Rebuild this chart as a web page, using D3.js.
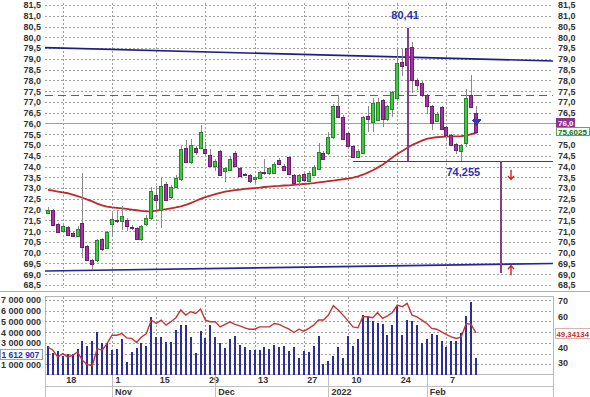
<!DOCTYPE html>
<html>
<head>
<meta charset="utf-8">
<script src="https://cdn.jsdelivr.net/npm/d3@7"></script>
<style>
  body { margin: 0; background: #fff; }
  svg { display: block; font-family: "Liberation Sans", Arial, sans-serif; }
</style>
</head>
<body>
<script>
// trading days
const dates = [
  "2021-10-13","2021-10-14","2021-10-15","2021-10-18","2021-10-19","2021-10-20","2021-10-21","2021-10-22","2021-10-25","2021-10-26","2021-10-27","2021-10-28","2021-10-29",
  "2021-11-01","2021-11-02","2021-11-03","2021-11-05","2021-11-08","2021-11-09","2021-11-10","2021-11-11","2021-11-12","2021-11-15","2021-11-16","2021-11-17","2021-11-18","2021-11-19","2021-11-22","2021-11-23","2021-11-24","2021-11-25","2021-11-26","2021-11-29","2021-11-30",
  "2021-12-01","2021-12-02","2021-12-03","2021-12-06","2021-12-07","2021-12-08","2021-12-09","2021-12-10","2021-12-13","2021-12-14","2021-12-15","2021-12-16","2021-12-17","2021-12-20","2021-12-21","2021-12-22","2021-12-23","2021-12-24","2021-12-27","2021-12-28","2021-12-29","2021-12-30","2021-12-31",
  "2022-01-03","2022-01-04","2022-01-05","2022-01-06","2022-01-10","2022-01-11","2022-01-12","2022-01-13","2022-01-14","2022-01-17","2022-01-18","2022-01-19","2022-01-20","2022-01-21","2022-01-24","2022-01-25","2022-01-26","2022-01-27","2022-01-28","2022-01-31",
  "2022-02-01","2022-02-02","2022-02-03","2022-02-04","2022-02-07","2022-02-08","2022-02-09","2022-02-10","2022-02-11","2022-02-14","2022-02-15"
];

const open = [71.85,72.0,71.35,71.0,71.2,70.9,70.78,71.4,70.3,69.65,69.65,70.65,70.2,71.3,71.5,71.45,71.5,71.2,71.15,70.65,71.3,71.6,72.7,72.0,73.2,72.6,73.05,73.4,74.85,74.2,74.85,74.85,74.8,74.55,74.05,74.72,73.8,73.85,74.63,73.93,73.67,73.6,73.4,73.47,73.74,73.7,73.72,74.3,74.02,74.46,73.6,73.34,73.65,73.34,73.65,73.92,74.64,74.64,75.36,76.81,76.31,75.54,74.95,74.46,74.64,76.34,76.08,76.16,77.09,76.2,76.7,77.17,78.87,79.49,79.57,78.02,77.9,77.32,76.81,76.13,76.78,75.85,75.46,75.03,74.74,75.08,77.32,76.47];
const high = [72.1,72.05,71.4,71.3,71.25,71.0,71.25,73.7,70.35,69.7,70.65,70.7,71.0,71.85,72.0,72.15,71.6,71.3,71.2,71.3,71.75,73.05,73.1,73.45,73.3,73.15,73.6,74.95,75.25,75.3,74.95,75.93,75.15,74.8,74.35,74.75,74.0,74.5,74.7,74.0,73.7,73.65,73.55,73.8,74.35,74.0,74.2,74.4,74.1,74.5,73.65,73.65,73.7,73.8,74.05,75.1,74.7,75.6,76.9,77.3,76.4,75.6,75.0,74.8,76.35,76.8,77.2,77.2,77.15,76.85,77.5,79.5,79.45,80.41,79.8,78.1,77.95,77.35,76.85,76.55,76.8,75.9,75.5,75.1,75.05,77.6,78.25,76.8];
const low = [71.8,71.25,70.9,70.95,70.8,70.72,70.75,69.75,69.6,69.2,69.55,70.1,70.15,70.75,71.4,71.05,71.0,71.05,70.6,70.55,71.25,71.5,72.0,71.15,72.4,72.5,73.0,73.35,74.15,74.1,74.55,74.8,74.5,74.0,73.8,73.55,73.3,73.8,74.0,73.5,73.6,73.25,73.25,73.4,73.6,73.6,73.7,74.05,73.8,73.6,73.2,73.1,73.3,73.3,73.6,73.85,74.3,74.55,75.3,76.25,75.25,74.9,74.4,74.4,74.6,75.6,75.6,76.1,75.85,76.1,76.3,77.1,78.2,77.55,77.4,77.55,77.25,76.45,75.7,76.05,75.7,75.3,74.95,74.6,74.255,74.9,76.7,75.5];
const close = [72.0,71.3,71.0,71.25,70.85,70.78,71.1,70.3,69.65,69.45,70.6,70.2,70.95,71.55,71.45,71.7,71.2,71.15,70.65,71.25,71.6,72.85,72.45,73.1,72.45,73.05,73.45,74.8,74.2,75.0,74.65,75.6,74.6,74.05,74.28,73.6,73.93,74.35,74.03,73.56,73.64,73.33,73.5,73.75,73.68,73.95,74.12,74.12,73.84,73.65,73.25,73.6,73.37,73.72,74.0,74.69,74.38,75.36,76.81,76.31,75.31,74.95,74.46,74.74,76.29,76.19,76.94,77.01,76.2,76.8,77.47,78.79,78.67,78.71,78.02,77.79,77.32,76.81,76.04,76.44,75.78,75.46,75.0,74.74,75.0,77.17,76.75,75.6025];

// moving average on price
const ma = [72.92,72.88,72.84,72.8,72.76,72.7,72.63,72.55,72.46,72.38,72.28,72.2,72.14,72.1,72.08,72.06,72.03,72.0,71.97,71.94,71.92,71.92,71.95,71.99,72.02,72.06,72.1,72.15,72.22,72.3,72.4,72.5,72.58,72.65,72.72,72.78,72.83,72.87,72.9,72.93,72.96,72.98,73.0,73.02,73.05,73.07,73.09,73.1,73.12,73.13,73.15,73.17,73.19,73.21,73.23,73.26,73.29,73.32,73.35,73.38,73.41,73.44,73.48,73.54,73.62,73.72,73.83,73.95,74.08,74.25,74.42,74.58,74.72,74.86,75.0,75.1,75.2,75.28,75.33,75.36,75.38,75.39,75.4,75.4,75.41,75.44,75.5,75.56];

// volume, millions
const volume = [2.75,2.08,2.23,1.77,1.92,1.98,2.44,3.15,2.69,3.21,4.01,2.99,2.99,2.32,2.44,3.37,1.24,2.14,2.54,2.99,2.75,5.46,3.55,3.55,3.09,3.06,4.17,4.63,4.69,3.52,2.01,4.07,3.46,4.63,3.52,2.99,2.54,3.36,3.67,2.84,2.6,2.38,2.38,2.38,2.66,2.44,2.84,2.66,2.75,2.23,2.6,1.55,2.23,2.14,2.69,3.61,1.0,1.3,1.76,2.6,1.55,3.61,2.75,3.36,5.6,5.55,5.0,4.85,4.75,3.77,4.69,6.47,3.77,5.15,5.0,4.69,3.0,3.36,3.83,3.77,3.2,2.6,3.2,3.13,3.92,5.55,6.79,1.612907];

// oscillator (right scale of lower panel)
const osc = [40.3,38.2,33.8,36,33.8,35,37.1,31.7,28.9,28.2,39.3,38.2,42.5,47.9,47.9,49,46.2,45.9,43.2,46.8,49,57.7,55.5,57.7,54.4,56.6,59.2,64.2,60.9,63.1,62,64.8,57.7,56.6,56.6,53.3,54.9,56.6,54.9,54,52.7,51.8,51.8,53.3,53.3,53.3,55.5,54.9,53.3,51.8,49.7,51.8,50.5,52.3,54.4,57.7,57.7,60.9,67,64.2,60.9,57,53.3,52.7,59.8,59.8,59.2,62.6,58.8,60.4,62.6,67.4,66.3,68.5,60.9,59.8,57.7,55.5,52.3,51.8,50.1,48.3,46.8,45.8,46.8,55.5,54.9,49.34134];

// ticks
const priceTicks = [68.5,69,69.5,70,70.5,71,71.5,72,72.5,73,73.5,74,74.5,75,75.5,76,76.5,77,77.5,78,78.5,79,79.5,80,80.5,81,81.5];
const rightPriceTicks = [68.5,69,69.5,70,70.5,71,71.5,72,72.5,73,73.5,74,74.5,75,76.5,77,77.5,78,78.5,79,79.5,80,80.5,81,81.5];
const volTicks = [1,2,3,4,5,6,7];
const volLabelTicks = [1,3,4,5,6,7];
const oscTicks = [30,40,60,70];
const dateTicks = ["2021-10-18","2021-11-01","2021-11-15","2021-11-29","2021-12-13","2021-12-27","2022-01-10","2022-01-24","2022-02-07"];
const monthStarts = ["2021-11-01","2021-12-01","2022-01-03","2022-02-01"];
const monthLabels = ["Nov","Dec","2022","Feb"];

// drawn levels
const upperChannel = [79.52, 78.9];   // left end, right end
const lowerChannel = [69.15, 69.5];
const dashedLevel = 77.3;
const purpleLevel = 76.0;
const supportLevel = 74.255;
const supportFrom = "2022-01-11";
const peakDate = "2022-01-26";
const peakValue = 80.41;
const targetLevel = 69.04;

const W = 590, H = 397;
const left = 45, right = 553;
const px = v => Math.round(v) + 0.5;

const loc = d3.formatLocale({decimal: ",", thousands: " ", grouping: [3], currency: ["", ""]});
const fPrice = loc.format(".1f");
const fVol = loc.format(",");

const svg = d3.select("body").append("svg")
    .attr("width", W)
    .attr("height", H)
    .style("shape-rendering", "crispEdges");

const x = d3.scalePoint().domain(dates).range([48, 476]);
const y = d3.scaleLinear().domain([68.5, 81.5]).range([285, 5]);
const yVol = d3.scaleLinear().domain([0, 7]).range([375, 300]);
const yOsc = d3.scaleLinear().domain([30, 70]).range([363, 301]);

const gridColor = "#a0a0a0";

// main grid
svg.append("g").selectAll("line")
    .data(priceTicks)
    .enter().append("line")
    .attr("x1", left).attr("x2", right)
    .attr("y1", d => px(y(d))).attr("y2", d => px(y(d)))
    .attr("stroke", gridColor)
    .attr("stroke-dasharray", "2,2");

svg.append("g").selectAll("line")
    .data(dateTicks)
    .enter().append("line")
    .attr("x1", d => px(x(d))).attr("x2", d => px(x(d)))
    .attr("y1", 3).attr("y2", 288)
    .attr("stroke", gridColor)
    .attr("stroke-dasharray", "2,2");

// panel separator
svg.append("line")
    .attr("x1", 0).attr("x2", W).attr("y1", 291.5).attr("y2", 291.5)
    .attr("stroke", "#b0b0b0");

// price axes
let axL = svg.append("g").attr("transform", "translate(43,0)")
    .call(d3.axisLeft(y).tickValues(priceTicks).tickFormat(fPrice).tickSize(0).tickPadding(2));
let axR = svg.append("g").attr("transform", "translate(556,0)")
    .call(d3.axisRight(y).tickValues(rightPriceTicks).tickFormat(fPrice).tickSize(0).tickPadding(2));
[axL, axR].forEach(a => {
  a.select(".domain").remove();
  a.selectAll("text").attr("font-size", 9).attr("font-weight", "bold").attr("fill", "#333")
    .attr("font-family", "Liberation Sans, Arial, sans-serif");
});

// level lines
svg.append("line")
    .attr("x1", left).attr("x2", right)
    .attr("y1", y(upperChannel[0])).attr("y2", y(upperChannel[1]))
    .attr("stroke", "#1e1e86").attr("stroke-width", 1.6)
    .style("shape-rendering", "auto");
svg.append("line")
    .attr("x1", left).attr("x2", right)
    .attr("y1", y(lowerChannel[0])).attr("y2", y(lowerChannel[1]))
    .attr("stroke", "#26269a").attr("stroke-width", 1.6)
    .style("shape-rendering", "auto");
svg.append("line")
    .attr("x1", left).attr("x2", right)
    .attr("y1", px(y(dashedLevel))).attr("y2", px(y(dashedLevel)))
    .attr("stroke", "#5a5aa8").attr("stroke-width", 1.2)
    .attr("stroke-dasharray", "8,5");
svg.append("line")
    .attr("x1", left).attr("x2", 556)
    .attr("y1", px(y(purpleLevel))).attr("y2", px(y(purpleLevel)))
    .attr("stroke", "#b98ab9").attr("stroke-width", 1.5);
svg.append("line")
    .attr("x1", x(supportFrom)).attr("x2", right)
    .attr("y1", px(y(supportLevel))).attr("y2", px(y(supportLevel)))
    .attr("stroke", "#3535ae").attr("stroke-width", 1.6);

// moving average
svg.append("path")
    .datum(ma)
    .attr("fill", "none")
    .attr("stroke", "#bd2a2a")
    .attr("stroke-width", 1.8)
    .style("shape-rendering", "auto")
    .attr("d", d3.line().x((d, i) => x(dates[i])).y(d => y(d)));

// candles
let candles = svg.append("g").selectAll("g")
    .data(dates)
    .enter().append("g");

candles.append("line")
    .attr("x1", d => px(x(d))).attr("x2", d => px(x(d)))
    .attr("y1", (d, i) => y(high[i])).attr("y2", (d, i) => y(low[i]))
    .attr("stroke", "#8a8a8a");

candles.append("rect")
    .attr("x", d => Math.round(x(d)) - 1.5)
    .attr("width", 3)
    .attr("y", (d, i) => Math.round(y(Math.max(open[i], close[i]))) + 0.5)
    .attr("height", (d, i) => Math.max(1, Math.round(Math.abs(y(open[i]) - y(close[i])))))
    .attr("fill", (d, i) => close[i] >= open[i] ? "#42c842" : "#a333a3")
    .attr("stroke", (d, i) => close[i] >= open[i] ? "#24882a" : "#6e2070");

// peak and target verticals
svg.append("line")
    .attr("x1", px(x(peakDate))).attr("x2", px(x(peakDate)))
    .attr("y1", y(peakValue)).attr("y2", y(supportLevel))
    .attr("stroke", "#8a3c8a").attr("stroke-width", 2);
const xTarget = x(dates[dates.length - 1]) + 24;
svg.append("line")
    .attr("x1", px(xTarget)).attr("x2", px(xTarget))
    .attr("y1", y(supportLevel)).attr("y2", y(targetLevel))
    .attr("stroke", "#8a3c8a").attr("stroke-width", 2);

// arrows
const xArrow = xTarget + 11;
function arrow(y0, y1) {
  const dir = y1 > y0 ? -1 : 1;
  svg.append("path")
      .attr("d", `M${xArrow},${y0} L${xArrow},${y1} M${xArrow - 3},${y1 + dir * 3.5} L${xArrow},${y1} L${xArrow + 3},${y1 + dir * 3.5}`)
      .attr("fill", "none")
      .attr("stroke", "#d42020")
      .attr("stroke-width", 1.4)
      .style("shape-rendering", "auto");
}
arrow(y(73.85), y(73.4));
arrow(y(68.95), y(69.4));

// value labels
svg.append("text")
    .attr("x", x(peakDate) - 2).attr("y", y(peakValue) - 9)
    .attr("text-anchor", "middle")
    .attr("font-size", 11).attr("font-weight", "bold").attr("fill", "#2b2fb0")
    .text(loc.format(".2f")(peakValue));
svg.append("text")
    .attr("x", x("2022-02-07")).attr("y", y(supportLevel) + 15)
    .attr("font-size", 11).attr("font-weight", "bold").attr("fill", "#2b2fb0")
    .text(loc.format(".3f")(supportLevel));

// last candle marker
const lx = Math.round(x(dates[dates.length - 1])) + 0.5;
const ly = Math.round(y(purpleLevel)) - 4;
svg.append("path")
    .attr("d", `M${lx - 4},${ly} L${lx + 4},${ly} M${lx - 4},${ly + 1.5} L${lx + 4},${ly + 1.5} L${lx},${ly + 6} Z`)
    .attr("fill", "#2a38c0")
    .attr("stroke", "#2a38c0");

// right-side value boxes
function valueBox(x0, y0, w, label, fill, stroke, color) {
  svg.append("rect")
      .attr("x", x0 + 0.5).attr("y", y0 + 0.5)
      .attr("width", w).attr("height", 8)
      .attr("fill", fill).attr("stroke", stroke);
  svg.append("text")
      .attr("x", x0 + 2).attr("y", y0 + 7.5)
      .attr("font-size", 8).attr("font-weight", "bold").attr("fill", color)
      .text(label);
}
valueBox(556, Math.round(y(purpleLevel)) - 5, 18, fPrice(purpleLevel), "#8e348e", "#8e348e", "#fff");
valueBox(556, Math.round(y(purpleLevel)) + 4, 33, loc.format(".4f")(close[close.length - 1]), "#f2fbf2", "#5aa85a", "#187018");

// lower panel
svg.append("rect")
    .attr("x", left + 0.5).attr("y", 296.5)
    .attr("width", right - left).attr("height", 78)
    .attr("fill", "none").attr("stroke", "#b8b8b8");

svg.append("g").selectAll("line")
    .data(volTicks)
    .enter().append("line")
    .attr("x1", left).attr("x2", right)
    .attr("y1", d => px(yVol(d))).attr("y2", d => px(yVol(d)))
    .attr("stroke", gridColor)
    .attr("stroke-dasharray", "2,2");

svg.append("g").selectAll("line")
    .data(dateTicks)
    .enter().append("line")
    .attr("x1", d => px(x(d))).attr("x2", d => px(x(d)))
    .attr("y1", 297).attr("y2", 374)
    .attr("stroke", gridColor)
    .attr("stroke-dasharray", "2,2");

// volume bars
svg.append("g").selectAll("rect")
    .data(volume)
    .enter().append("rect")
    .attr("x", (d, i) => Math.round(x(dates[i])) - 1)
    .attr("width", 2)
    .attr("y", d => Math.round(yVol(d)))
    .attr("height", d => 375 - Math.round(yVol(d)))
    .attr("fill", "#2d2d9c");

// oscillator line
svg.append("path")
    .datum(osc)
    .attr("fill", "none")
    .attr("stroke", "#c83434")
    .attr("stroke-width", 1.4)
    .style("shape-rendering", "auto")
    .attr("d", d3.line().x((d, i) => x(dates[i])).y(d => yOsc(d)));

let axVol = svg.append("g").attr("transform", "translate(43,0)")
    .call(d3.axisLeft(yVol).tickValues(volLabelTicks).tickFormat(d => fVol(d * 1e6)).tickSize(0).tickPadding(2));
let axOsc = svg.append("g").attr("transform", "translate(556,0)")
    .call(d3.axisRight(yOsc).tickValues(oscTicks).tickFormat(d => d).tickSize(0).tickPadding(2));
[axVol, axOsc].forEach(a => {
  a.select(".domain").remove();
  a.selectAll("text").attr("font-size", 9).attr("font-weight", "bold").attr("fill", "#333")
    .attr("font-family", "Liberation Sans, Arial, sans-serif");
});

// last values of lower panel
function smallBox(x0, yc, w, label, color, border, size) {
  svg.append("rect")
      .attr("x", x0 + 0.5).attr("y", Math.round(yc - 5) + 0.5)
      .attr("width", w).attr("height", 10)
      .attr("fill", "#fff").attr("stroke", border);
  svg.append("text")
      .attr("x", x0 + 1.5).attr("y", Math.round(yc - 5) + 8.5)
      .attr("font-size", size).attr("font-weight", "bold").attr("fill", color)
      .text(label);
}
smallBox(555, yOsc(osc[osc.length - 1]), 35, loc.format(".5f")(osc[osc.length - 1]), "#c43030", "#e0b0b0", 7.8);
smallBox(0, yVol(2), 42, fVol(Math.round(volume[volume.length - 1] * 1e6)), "#2434a8", "#9aa0c8", 8.5);

// date axis box
svg.append("line").attr("x1", left).attr("x2", right).attr("y1", 386.5).attr("y2", 386.5).attr("stroke", "#c0c0c0");
svg.append("line").attr("x1", left + 0.5).attr("x2", left + 0.5).attr("y1", 375).attr("y2", H).attr("stroke", "#c0c0c0");
svg.append("line").attr("x1", right + 0.5).attr("x2", right + 0.5).attr("y1", 375).attr("y2", H).attr("stroke", "#c0c0c0");

let axX = svg.append("g").attr("transform", "translate(0,377)")
    .call(d3.axisBottom(x).tickValues(dateTicks).tickFormat(d => +d.slice(8)).tickSize(0).tickPadding(0));
axX.select(".domain").remove();
axX.selectAll("text")
    .attr("text-anchor", "start").attr("x", 3).attr("dy", "0.71em")
    .attr("font-size", 9).attr("font-weight", "bold").attr("fill", "#333")
    .attr("font-family", "Liberation Sans, Arial, sans-serif");

svg.append("g").selectAll("line")
    .data(monthStarts)
    .enter().append("line")
    .attr("x1", d => px(x(d))).attr("x2", d => px(x(d)))
    .attr("y1", 375).attr("y2", H)
    .attr("stroke", "#c0c0c0");
svg.append("g").selectAll("text")
    .data(monthStarts)
    .enter().append("text")
    .attr("x", d => x(d) + 3).attr("y", 395)
    .attr("font-size", 9).attr("font-weight", "bold").attr("fill", "#333")
    .text((d, i) => monthLabels[i]);
</script>
</body>
</html>
